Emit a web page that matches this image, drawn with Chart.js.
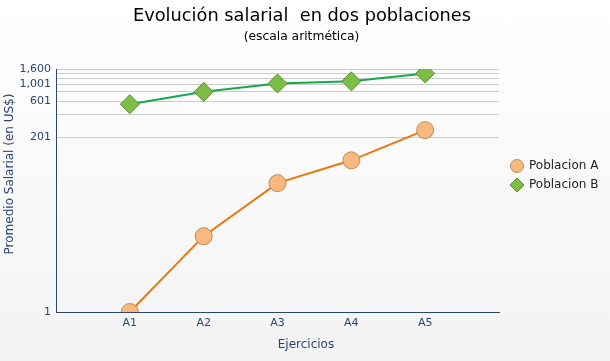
<!DOCTYPE html>
<html>
<head>
<meta charset="utf-8">
<script src="https://cdn.jsdelivr.net/npm/chart.js@4/dist/chart.umd.min.js"></script>
<style>
html,body{margin:0;padding:0;}
body{width:610px;height:361px;background:linear-gradient(#ffffff,#f3f3f3);overflow:hidden;}
canvas{display:block;}
</style>
</head>
<body>
<canvas id="c" width="610" height="361"></canvas>
<script>
const categories = ['A1', 'A2', 'A3', 'A4', 'A5'];
const poblacionA = [1, 10, 50, 100, 250];
const poblacionB = [550, 800, 1030, 1100, 1400];
const yGridValues = [1, 201, 401, 601, 801, 1001, 1201, 1401, 1600];
const yLabelValues = [1, 201, 601, 1001, 1600];
const titleText = 'Evolución salarial  en dos poblaciones';
const subtitleText = '(escala aritmética)';
const xTitleText = 'Ejercicios';
const yTitleText = 'Promedio Salarial (en US$)';
const seriesNames = ['Poblacion A', 'Poblacion B'];

const FONT = "'DejaVu Sans', Verdana, sans-serif";
const NAVY = '#2c4472';

const toPoints = arr => arr.map((v, i) => ({x: i + 1, y: v}));

const decorPlugin = {
  id: 'decor',
  afterDraw(chart) {
    const ctx = chart.ctx;
    ctx.save();
    ctx.textAlign = 'center';
    ctx.textBaseline = 'middle';
    ctx.fillStyle = '#000';
    ctx.font = '17.8px ' + FONT;
    ctx.fillText(titleText, 302, 16.5);
    ctx.font = '12.3px ' + FONT;
    ctx.fillText(subtitleText, 301.5, 37);
    // axis titles
    ctx.fillStyle = NAVY;
    ctx.font = '12px ' + FONT;
    ctx.fillText(xTitleText, 306, 345);
    ctx.save();
    ctx.translate(10, 174);
    ctx.rotate(-Math.PI / 2);
    ctx.fillText(yTitleText, 0, 0);
    ctx.restore();
    // legend
    const ds = chart.data.datasets;
    const rows = [166, 185];
    ds.forEach((d, i) => {
      const y = rows[i];
      ctx.beginPath();
      if (d.pointStyle === 'rectRot') {
        ctx.moveTo(517, y - 7); ctx.lineTo(524, y); ctx.lineTo(517, y + 7); ctx.lineTo(510, y); ctx.closePath();
      } else {
        ctx.arc(517, y, 6.5, 0, Math.PI * 2);
      }
      ctx.fillStyle = d.pointBackgroundColor;
      ctx.fill();
      ctx.lineWidth = 1;
      ctx.strokeStyle = d.pointBorderColor;
      ctx.stroke();
      ctx.fillStyle = '#222';
      ctx.textAlign = 'left';
      ctx.font = '12px ' + FONT;
      ctx.fillText(d.label, 529, y);
    });
    ctx.restore();
  }
};

new Chart(document.getElementById('c'), {
  type: 'line',
  data: {
    datasets: [
      {
        label: seriesNames[0],
        data: toPoints(poblacionA),
        borderColor: '#e8760a',
        borderWidth: 2,
        pointStyle: 'circle',
        pointRadius: 8.5,
        pointBackgroundColor: '#f9b880',
        pointBorderColor: '#c08a5a',
        pointBorderWidth: 1,
        tension: 0
      },
      {
        label: seriesNames[1],
        data: toPoints(poblacionB),
        borderColor: '#15a84c',
        borderWidth: 2,
        pointStyle: 'rectRot',
        pointRadius: 9.5,
        pointBackgroundColor: '#7bbd45',
        pointBorderColor: '#5c8c36',
        pointBorderWidth: 1,
        tension: 0
      }
    ]
  },
  options: {
    responsive: false,
    animation: false,
    devicePixelRatio: 1,
    layout: {padding: {top: 69, right: 111, bottom: 0, left: 0}},
    plugins: {
      legend: {display: false},
      title: {display: false},
      tooltip: {enabled: false}
    },
    scales: {
      x: {
        type: 'linear',
        min: 0,
        max: 6,
        afterFit: s => { s.height = 49; },
        afterBuildTicks: s => { s.ticks = [0,1,2,3,4,5,6].map(v => ({value: v})); },
        ticks: {
          autoSkip: false,
          maxRotation: 0,
          padding: 5,
          color: NAVY,
          font: {family: FONT, size: 11},
          callback: v => categories[v - 1] || ''
        },
        grid: {display: false, drawTicks: false},
        border: {display: true, color: NAVY, width: 1}
      },
      y: {
        type: 'logarithmic',
        min: 1,
        max: 1600,
        afterFit: s => { s.width = 56; },
        afterBuildTicks: s => { s.ticks = yGridValues.map(v => ({value: v})); },
        ticks: {
          autoSkip: false,
          padding: 5,
          color: NAVY,
          font: {family: FONT, size: 11},
          callback: v => yLabelValues.includes(v) ? v.toLocaleString('en-US') : ''
        },
        grid: {color: '#cccccc', drawTicks: false, lineWidth: 1},
        border: {display: true, color: NAVY, width: 1}
      }
    }
  },
  plugins: [decorPlugin]
});
</script>
</body>
</html>
